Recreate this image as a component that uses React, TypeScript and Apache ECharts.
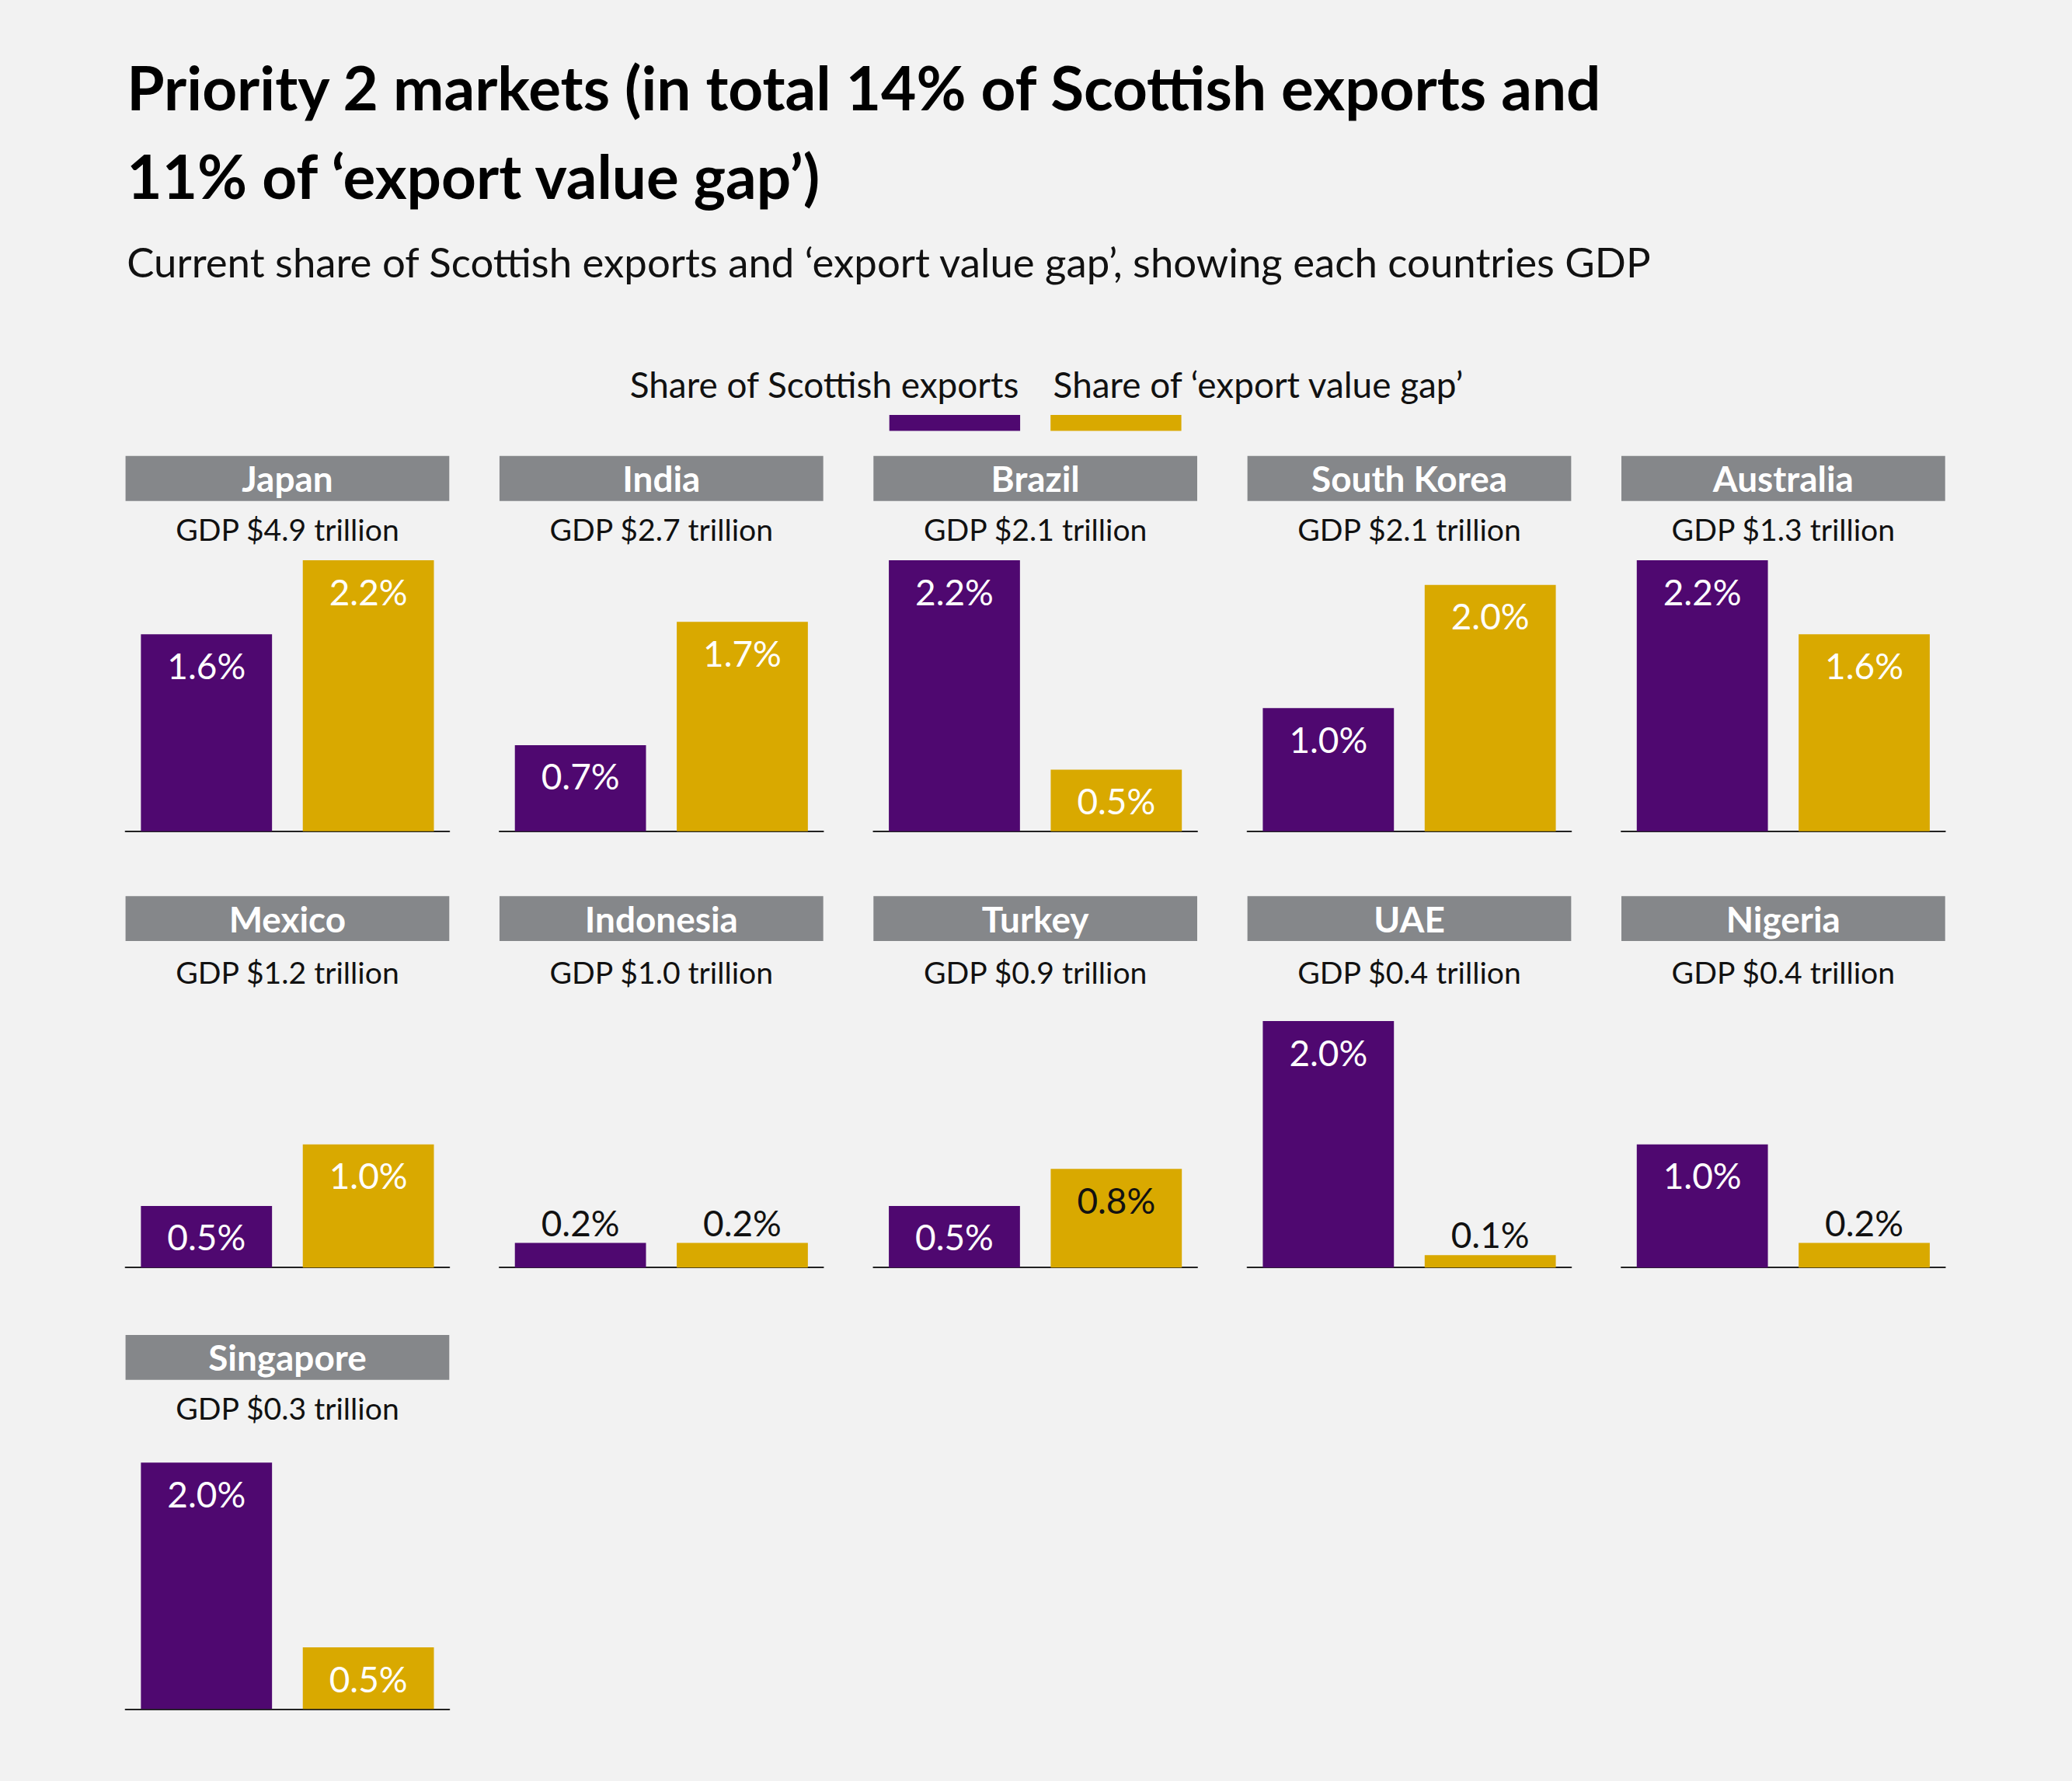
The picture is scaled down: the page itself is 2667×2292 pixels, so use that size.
import React, { useEffect, useRef } from 'react';
import * as echarts from 'echarts';

const countries = ['Japan', 'India', 'Brazil', 'South Korea', 'Australia', 'Mexico', 'Indonesia', 'Turkey', 'UAE', 'Nigeria', 'Singapore'];
const gdpLabels = ['GDP $4.9 trillion', 'GDP $2.7 trillion', 'GDP $2.1 trillion', 'GDP $2.1 trillion', 'GDP $1.3 trillion', 'GDP $1.2 trillion', 'GDP $1.0 trillion', 'GDP $0.9 trillion', 'GDP $0.4 trillion', 'GDP $0.4 trillion', 'GDP $0.3 trillion'];
const exportShare = [1.6, 0.7, 2.2, 1.0, 2.2, 0.5, 0.2, 0.5, 2.0, 1.0, 2.0];
const gapShare = [2.2, 1.7, 0.5, 2.0, 1.6, 1.0, 0.2, 0.8, 0.1, 0.2, 0.5];
const seriesNames = ['Share of Scottish exports', 'Share of \u2018export value gap\u2019'];

const PURPLE = '#4f0870';
const GOLD = '#d9a900';
const FONT = 'Lato';
const K = 2667 / 1568;
const S = (v: number) => v * K;

const colX = [95, 378, 661, 944, 1227];
const rowBottom = [629, 959, 1293];
const rowHeader = [345, 678, 1010];
const rowGdp = [400, 735, 1065];
const PANEL_W = 245;
const PX_PER_PCT = 93.2;
const Y_MAX = 2.2;

const App: React.FC = () => {
  const ref = useRef<HTMLDivElement>(null);

  useEffect(() => {
    document.body.style.margin = '0';
    if (!ref.current) return;
    const chart = echarts.init(ref.current, null, { renderer: 'svg' });

    const grids: any[] = [];
    const xAxes: any[] = [];
    const yAxes: any[] = [];
    const series: any[] = [];
    const graphics: any[] = [];

    countries.forEach((name, i) => {
      const r = Math.floor(i / 5);
      const c = i % 5;
      const left = colX[c];
      const bottom = rowBottom[r];
      grids.push({
        left: S(left),
        width: S(PANEL_W),
        top: S(bottom - PX_PER_PCT * Y_MAX),
        height: S(PX_PER_PCT * Y_MAX),
      });
      xAxes.push({
        type: 'category',
        gridIndex: i,
        data: seriesNames,
        offset: S(11),
        axisLine: { lineStyle: { color: '#222', width: 2 } },
        axisTick: { show: false },
        axisLabel: { show: false },
      });
      yAxes.push({ type: 'value', gridIndex: i, min: 0, max: Y_MAX, show: false });
      const vals = [exportShare[i], gapShare[i]];
      series.push({
        type: 'bar',
        xAxisIndex: i,
        yAxisIndex: i,
        barWidth: '81%',
        data: vals.map((v, j) => {
          const small = v <= 0.2;
          const dark = small || (j === 1 && v > 0.6 && v < 0.9);
          return {
            value: v,
            itemStyle: { color: j === 0 ? PURPLE : GOLD },
            label: {
              show: true,
              position: small ? 'top' : 'insideTop',
              distance: S(small ? 2 : 10),
              formatter: v.toFixed(1) + '%',
              color: dark ? '#111' : '#fff',
              fontFamily: FONT,
              fontSize: S(27),
            },
          };
        }),
      });
      graphics.push({
        type: 'rect',
        shape: { x: S(left), y: S(rowHeader[r]), width: S(PANEL_W), height: S(34) },
        style: { fill: '#85878a' },
      });
      graphics.push({
        type: 'text',
        x: S(left + PANEL_W / 2),
        y: S(rowHeader[r] + 17),
        style: { text: name, fill: '#fff', font: `bold ${S(27)}px ${FONT}`, align: 'center', verticalAlign: 'middle' },
      });
      graphics.push({
        type: 'text',
        x: S(left + PANEL_W / 2),
        y: S(rowGdp[r]),
        style: { text: gdpLabels[i], fill: '#111', font: `${S(23)}px ${FONT}`, align: 'center', verticalAlign: 'middle' },
      });
    });

    // legend
    graphics.push(
      { type: 'text', x: S(771), y: S(291), style: { text: seriesNames[0], fill: '#111', font: `${S(27)}px ${FONT}`, align: 'right', verticalAlign: 'middle' } },
      { type: 'rect', shape: { x: S(673), y: S(314), width: S(99), height: S(12) }, style: { fill: PURPLE } },
      { type: 'text', x: S(797), y: S(291), style: { text: seriesNames[1], fill: '#111', font: `${S(27)}px ${FONT}`, align: 'left', verticalAlign: 'middle' } },
      { type: 'rect', shape: { x: S(795), y: S(314), width: S(99), height: S(12) }, style: { fill: GOLD } },
      { type: 'text', x: S(96), y: S(66), style: { text: 'Priority 2 markets (in total 14% of Scottish exports and', fill: '#000', font: `bold ${S(46)}px ${FONT}`, verticalAlign: 'middle' } },
      { type: 'text', x: S(96), y: S(133), style: { text: '11% of \u2018export value gap\u2019)', fill: '#000', font: `bold ${S(46)}px ${FONT}`, verticalAlign: 'middle' } },
      { type: 'text', x: S(96), y: S(198), style: { text: 'Current share of Scottish exports and \u2018export value gap\u2019, showing each countries GDP', fill: '#111', font: `${S(31)}px ${FONT}`, verticalAlign: 'middle' } },
    );

    chart.setOption({
      animation: false,
      backgroundColor: '#f2f2f2',
      grid: grids,
      xAxis: xAxes,
      yAxis: yAxes,
      series,
      graphic: graphics,
    });

    return () => chart.dispose();
  }, []);

  return <div ref={ref} style={{ width: 2667, height: 2292 }} />;
};

export default App;
